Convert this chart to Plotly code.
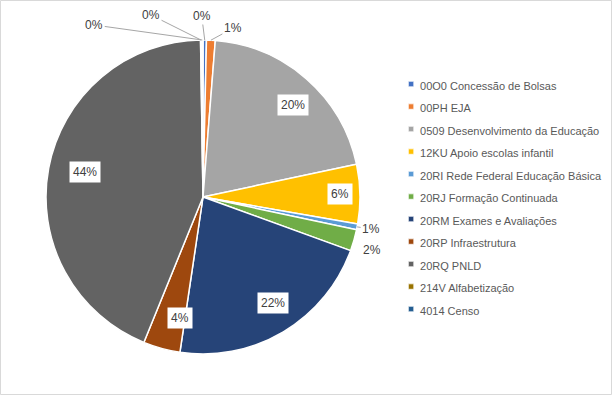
import math
import plotly.graph_objects as go

categories = [
    "00O0 Concessão de Bolsas",
    "00PH EJA",
    "0509 Desenvolvimento da Educação",
    "12KU Apoio escolas infantil",
    "20RI Rede Federal Educação Básica",
    "20RJ Formação Continuada",
    "20RM Exames e Avaliações",
    "20RP Infraestrutura",
    "20RQ PNLD",
    "214V Alfabetização",
    "4014 Censo",
]
values = [0.35, 0.9, 20.4, 6.1, 0.6, 2.2, 21.8, 3.8, 43.6, 0.1, 0.15]
colors = ["#4472C4", "#ED7D31", "#A5A5A5", "#FFC000", "#5B9BD5", "#70AD47",
          "#264478", "#9E480E", "#636363", "#997300", "#255E91"]

label_style = ["out", "out", "in", "in", "out", "out2", "in", "in", "in", "out", "out"]
out_offsets = {0: (-3, -24), 1: (22, -12), 4: (14, 2), 5: (18, 10), 9: (-50, -25), 10: (-108, -15)}

W, H = 613, 396
cx, cy, R = 203, 197, 157

display_labels = [f'<span style="font-size:11px">{c}</span>' for c in categories]

fig = go.Figure()
fig.add_trace(go.Pie(
    labels=display_labels, values=values, sort=False, direction="clockwise",
    rotation=0, marker=dict(colors=colors, line=dict(color="white", width=1.5)),
    textinfo="none", hoverinfo="label+percent",
    domain=dict(x=[(cx - R) / W, (cx + R) / W], y=[(H - cy - R) / H, (H - cy + R) / H]),
))

total = sum(values)
cum = 0.0
annotations = []
for i, v in enumerate(values):
    mid = (cum + v / 2) / total * 2 * math.pi
    cum += v
    pct = f"{round(v / total * 100):.0f}%"
    if label_style[i] == "in":
        r = 0.87 * R
        px = cx + r * math.sin(mid)
        py = cy - r * math.cos(mid)
        annotations.append(dict(x=px / W, y=1 - py / H, xref="paper", yref="paper",
                                text=pct, showarrow=False, bgcolor="white",
                                borderpad=3, font=dict(size=12, color="#404040")))
    else:
        px = cx + R * math.sin(mid)
        py = cy - R * math.cos(mid)
        ax, ay = out_offsets[i]
        if label_style[i] == "out2":
            annotations.append(dict(x=(px + ax) / W, y=1 - (py + ay) / H, xref="paper", yref="paper",
                                    text=pct, showarrow=False, font=dict(size=12, color="#404040")))
        else:
            annotations.append(dict(x=px / W, y=1 - py / H, xref="paper", yref="paper",
                                    text=pct, showarrow=True, arrowhead=0, arrowwidth=1,
                                    arrowcolor="#A6A6A6", ax=ax, ay=ay, standoff=0,
                                    font=dict(size=12, color="#404040")))

fig.update_layout(
    width=W, height=H, margin=dict(l=0, r=0, t=0, b=0),
    paper_bgcolor="white", plot_bgcolor="white",
    font=dict(family="Liberation Sans, Arial", size=12, color="#595959"),
    legend=dict(x=0.62, y=0.503, xanchor="left", yanchor="middle",
                font=dict(size=15, color="#595959"), itemwidth=30,
                tracegroupgap=0),
    annotations=annotations,
    shapes=[dict(type="rect", xref="paper", yref="paper", x0=0.5 / W, y0=1.5 / H,
                 x1=1 - 1.5 / W, y1=1 - 0.5 / H, line=dict(color="#D9D9D9", width=1))],
)
post = (
    "document.body.style.margin='0';document.body.style.overflow='hidden';"
    "document.querySelectorAll('.legend .legendpoints path').forEach(function(p){"
    "p.setAttribute('transform','translate(31,0) scale(0.45)');});"
)
fig.write_html("out.html", post_script=post, config={"displayModeBar": False})
